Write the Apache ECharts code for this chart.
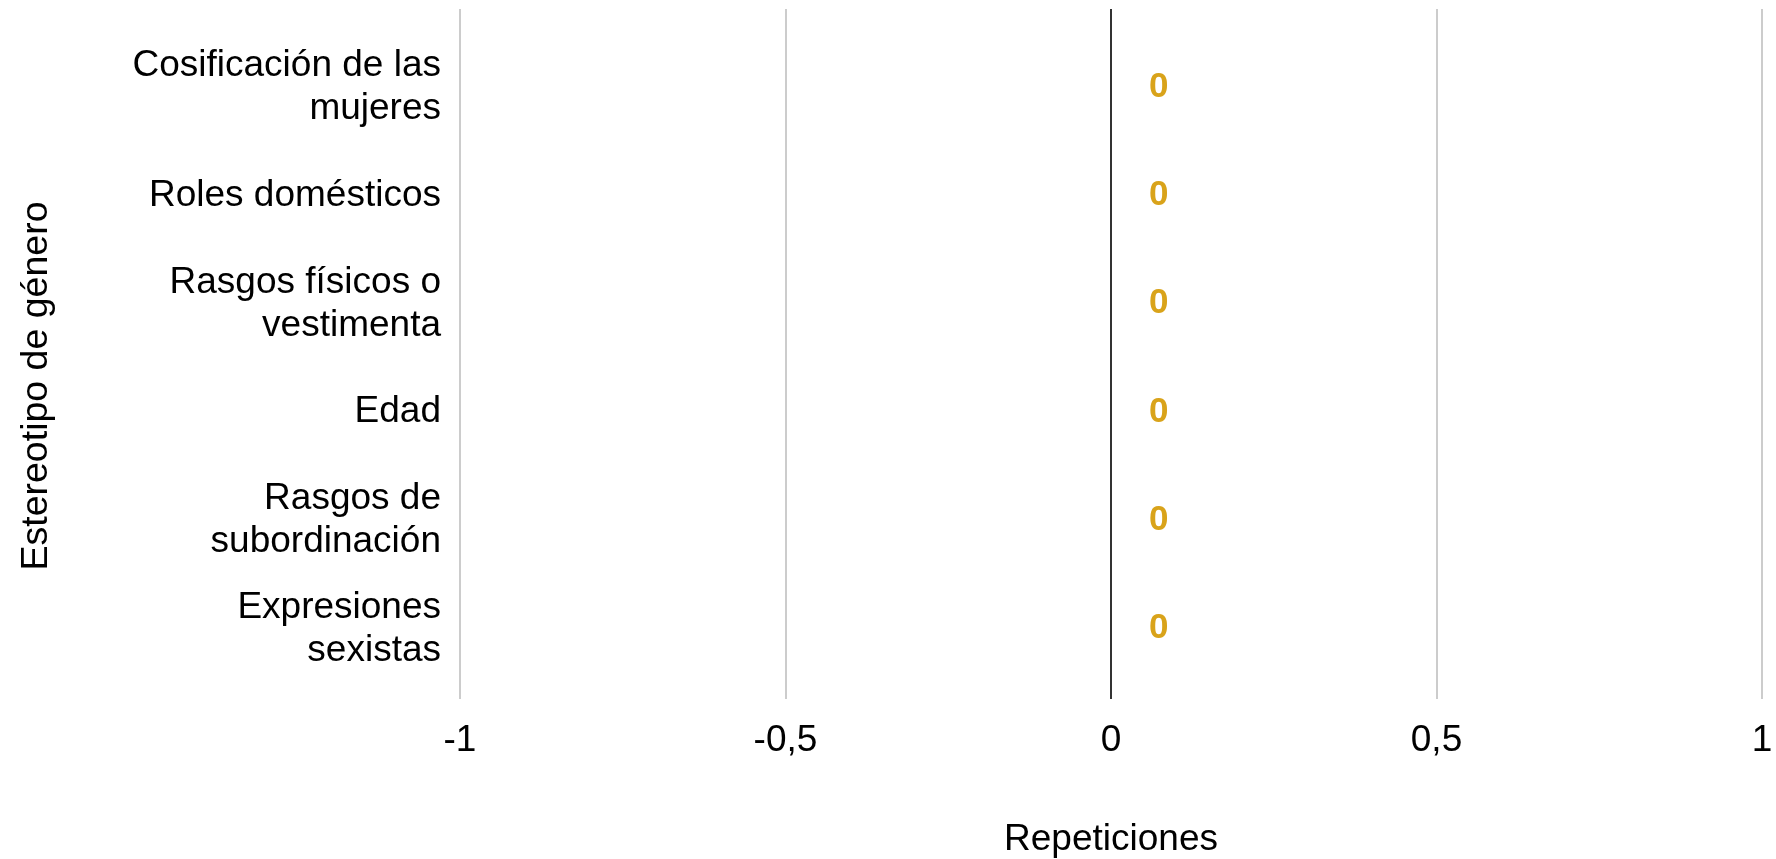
<!DOCTYPE html>
<html>
<head>
<meta charset="utf-8">
<script src="https://cdn.jsdelivr.net/npm/echarts@6/dist/echarts.min.js"></script>
<style>
html,body{margin:0;padding:0;background:#fff;}
#chart{width:1776px;height:859px;}
</style>
</head>
<body>
<div id="chart"></div>
<script>
const categories = [
  'Cosificación de las\nmujeres',
  'Roles domésticos',
  'Rasgos físicos o\nvestimenta',
  'Edad',
  'Rasgos de\nsubordinación',
  'Expresiones\nsexistas'
];
const repeticiones = [0, 0, 0, 0, 0, 0];
const xMin = -1, xMax = 1, xStep = 0.5;
const xTitle = 'Repeticiones';
const yTitle = 'Estereotipo de género';

const FONT = '"Liberation Sans", Arial, sans-serif';
const chart = echarts.init(document.getElementById('chart'));
chart.setOption({
  backgroundColor: '#ffffff',
  animation: false,
  textStyle: { fontFamily: FONT },
  grid: [
    { left: 460, right: 14, top: 9, bottom: 160, outerBoundsMode: 'none', containLabel: false },
    { left: 460, right: 14, top: 33, bottom: 176, outerBoundsMode: 'none', containLabel: false }
  ],
  xAxis: [
    {
      gridIndex: 0, type: 'value', min: xMin, max: xMax, interval: xStep,
      axisLine: { show: false }, axisTick: { show: false },
      splitLine: { show: true, lineStyle: { color: ['#cccccc', '#cccccc', '#333333', '#cccccc', '#cccccc'], width: 2 } },
      axisLabel: { fontSize: 37, color: '#000', margin: 23, fontFamily: FONT,
        formatter: v => String(v).replace('.', ',') },
      name: xTitle, nameLocation: 'middle', nameGap: 122,
      nameTextStyle: { fontSize: 37, color: '#000', fontFamily: FONT }
    },
    {
      gridIndex: 1, type: 'value', min: xMin, max: xMax, interval: xStep, show: false
    }
  ],
  yAxis: [
    {
      gridIndex: 0, type: 'value', min: 0, max: 1, show: true,
      axisLine: { show: false }, axisTick: { show: false }, axisLabel: { show: false }, splitLine: { show: false },
      name: yTitle, nameLocation: 'middle', nameGap: 404, nameRotate: 90,
      nameTextStyle: { fontSize: 37.5, color: '#000', fontFamily: FONT, padding: [0, 64, 0, 0] }
    },
    {
      gridIndex: 1, type: 'category', inverse: true, data: categories,
      axisLine: { show: false }, axisTick: { show: false }, splitLine: { show: false },
      axisLabel: { fontSize: 37, color: '#000', margin: 19, lineHeight: 43, align: 'right', fontFamily: FONT }
    }
  ],
  series: [
    {
      type: 'bar', xAxisIndex: 1, yAxisIndex: 1, data: repeticiones,
      barWidth: '60%',
      itemStyle: { color: '#D9A31A' },
      label: { show: true, position: 'right', distance: 38, color: '#D9A31A', fontWeight: 'bold', fontSize: 35, fontFamily: FONT }
    }
  ]
});
</script>
</body>
</html>
